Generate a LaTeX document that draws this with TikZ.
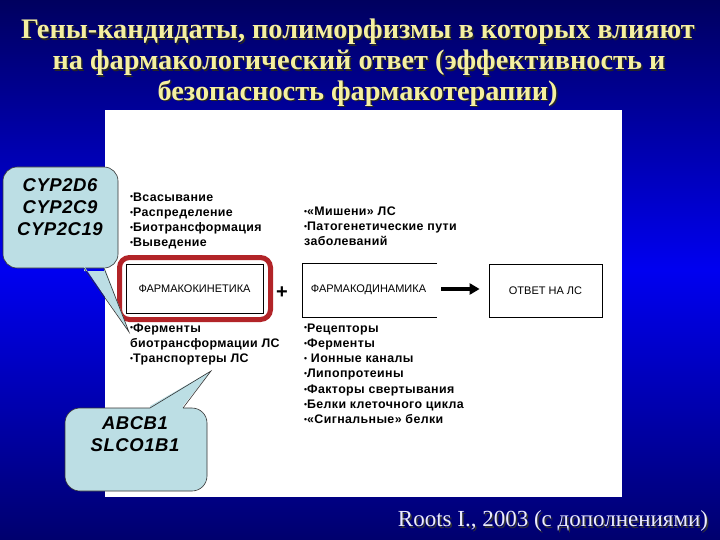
\documentclass[tikz,border=0pt]{standalone}
\usepackage{fontspec}
\setmainfont{Liberation Serif}
\newfontfamily\arialfont{Liberation Sans}
\newfontfamily\listfont{Liberation Sans}[LetterSpace=3]
\newfontfamily\calloutfont{Liberation Sans}[LetterSpace=3]
\usetikzlibrary{arrows.meta}
\definecolor{titleyellow}{RGB}{245,240,160}
\definecolor{calloutfill}{RGB}{188,222,228}
\definecolor{redframe}{RGB}{178,36,40}
\definecolor{navytop}{RGB}{0,0,95}
\definecolor{bluemid}{RGB}{0,0,240}
\definecolor{navybot}{RGB}{0,0,110}
\newcommand\bul{{\fontsize{8.5}{8.5}\selectfont\raisebox{0.25ex}{•}}}
\tikzset{
  titletext/.style={font=\bfseries\fontsize{28.3}{30}\selectfont, text=titleyellow, inner sep=0pt},
  titleshadow/.style={titletext, text=black!85},
  listtext/.style={font=\listfont\bfseries\fontsize{12.4}{15.3}\selectfont, align=left, inner sep=0pt, anchor=north west},
  boxlabel/.style={font=\arialfont\fontsize{11}{13}\selectfont, inner sep=0pt},
  calloutshape/.style={fill=calloutfill, draw=black!80, line width=0.6pt},
  callouttext/.style={font=\calloutfont\bfseries\itshape\fontsize{18.5}{22}\selectfont, align=center, inner sep=0pt},
  bigarrow/.style={line width=3.5pt, -{Triangle[length=10pt,width=11pt]}},
  citetext/.style={font=\fontsize{23}{25}\selectfont, text=white!92!blue, inner sep=0pt}
}
\begin{document}
\begin{tikzpicture}[x=1pt,y=-1pt]
\useasboundingbox (0,0) rectangle (720,540);
\shade[top color=navytop, bottom color=navybot, middle color=bluemid] (0,0) rectangle (720,540);

% title
\node[titleshadow] (t1s) at (359.5,33.5) {Гены-кандидаты, полиморфизмы в которых влияют};
\node[titletext] (t1) at (358,32) {Гены-кандидаты, полиморфизмы в которых влияют};
\node[titleshadow] (t2s) at (360.5,64.5) {на фармакологический ответ (эффективность и};
\node[titletext] (t2) at (359,63) {на фармакологический ответ (эффективность и};
\node[titleshadow] (t3s) at (359,94.5) {безопасность фармакотерапии)};
\node[titletext] (t3) at (357.5,93) {безопасность фармакотерапии)};

% white panel
\fill[white] (105,110) rectangle (622,497);

% boxes
\node[boxlabel, draw=black, line width=0.8pt, minimum width=137pt, minimum height=49pt] (pk) at (194.5,288.5) {ФАРМАКОКИНЕТИКА};
\draw[redframe, line width=5pt, rounded corners=10pt] (119.5,257.5) rectangle (270.5,319.5);
\node[font=\arialfont\bfseries\fontsize{20}{20}\selectfont, inner sep=0pt] (plus) at (282,293) {+};
\node[boxlabel, minimum width=134pt, minimum height=53pt] (pd) at (370,290.5) {};
\node[boxlabel] (pdl) at (368.5,290) {ФАРМАКОДИНАМИКА};
\draw[black, line width=0.8pt] (pd.north east) -- (pd.north west) -- (pd.south west) -- (pd.south east);
\node[boxlabel, draw=black, line width=0.8pt, minimum width=113pt, minimum height=53pt] (ot) at (545.5,290.5) {ОТВЕТ НА ЛС};
\draw[bigarrow] ([xshift=4pt,yshift=1.5pt]pd.east) -- ([xshift=-9pt,yshift=1.5pt]ot.west);

% lists
\node[listtext] (l1) at (130,192.3) {\bul Всасывание\\\bul Распределение\\\bul Биотрансформация\\\bul Выведение};
\node[listtext] (l2) at (304,206.3) {\bul«Мишени» ЛС\\\bul Патогенетические пути\\заболеваний};
\node[listtext] (l3) at (130,323.3) {\bul Ферменты\\биотрансформации ЛС\\\bul Транспортеры ЛС};
\node[listtext] (l4) at (304,323.3) {\bul Рецепторы\\\bul Ферменты\\\bul\ Ионные каналы\\\bul Липопротеины\\\bul Факторы свертывания\\\bul Белки клеточного цикла\\\bul«Сигнальные» белки};

% callout CYP
\draw[calloutshape, rounded corners=14pt] (3,167) rectangle (118,268);
\fill[calloutfill] (84,266) -- (129,332) -- (104,266) -- (104,271) -- (84,271) -- cycle;
\coordinate (tip1) at (129,332);
\draw[black!80, line width=0.6pt] (84,268) -- (tip1) -- (104,268);
\node[callouttext] (c1) at (60,207) {CYP2D6\\CYP2C9\\CYP2C19};

% callout ABCB1
\draw[calloutshape, rounded corners=15pt] (65,408) rectangle (207,491);
\fill[calloutfill] (150,406) -- (211,371) -- (183,406) -- (183,411) -- (150,411) -- cycle;
\coordinate (tip2) at (211,371);
\draw[black!80, line width=0.6pt] (150,408) -- (tip2) -- (183,408);
\node[callouttext] (c2) at (135,434) {ABCB1\\SLCO1B1};

% citation
\node[citetext, text=black!80] (cits) at (554.5,522.5) {Roots I., 2003 (с дополнениями)};
\node[citetext] (cit) at (553,521) {Roots I., 2003 (с дополнениями)};
\end{tikzpicture}
\end{document}
